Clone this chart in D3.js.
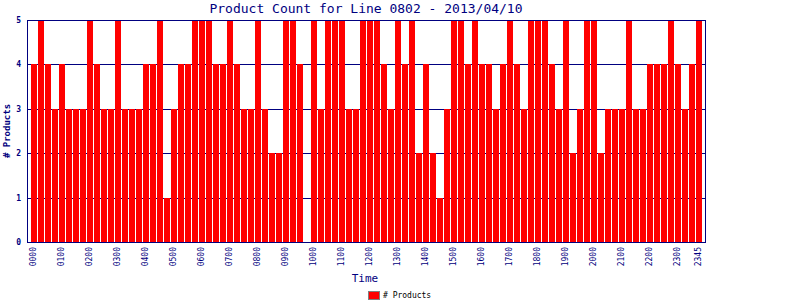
<!DOCTYPE html>
<html>
<head>
<meta charset="utf-8">
<script src="https://cdn.jsdelivr.net/npm/d3@7"></script>
<style>
  body { margin: 0; background: #fff; }
  text { font-family: "DejaVu Sans Mono", monospace; fill: #000080; }
</style>
</head>
<body>
<div id="chart"></div>
<script>
// chart data
var title = "Product Count for Line 0802 - 2013/04/10";
// one slot every 15 minutes
var times = d3.range(96).map(function(i) {
  return d3.format("02d")(Math.floor(i / 4)) + d3.format("02d")((i % 4) * 15);
});
var counts = [
  4,5,4,3,4,3,3,3,5,4,3,3,5,3,3,3,4,4,5,1,3,4,4,5,5,5,
  4,4,5,4,3,3,5,3,2,2,5,5,4,0,5,3,5,5,5,3,3,5,5,5,4,3,
  5,4,5,2,4,2,1,3,5,5,4,5,4,4,3,4,5,4,3,5,5,5,
  4,3,5,2,3,5,5,2,3,3,3,5,3,3,4,4,4,5,4,3,4,5
];
var tickLabels = ["0000","0100","0200","0300","0400","0500","0600","0700","0800","0900",
  "1000","1100","1200","1300","1400","1500","1600","1700","1800","1900",
  "2000","2100","2200","2300","2345"];
var yTicks = [0, 1, 2, 3, 4, 5];

// size of plot
var w = 800, h = 300;
var plotL = 27, plotR = 705, plotT = 20, plotB = 242;

var svg = d3.select("#chart").append("svg")
  .attr("width", w)
  .attr("height", h);

var x = d3.scaleBand()
  .domain(times)
  .range([plotL + 3, plotR - 3])
  .paddingInner(1 / 7)
  .paddingOuter(1 / 14);

var y = d3.scaleLinear()
  .domain([0, 5])
  .range([plotB, plotT]);

// grid lines
svg.append("g")
  .selectAll("line")
  .data(yTicks)
  .enter()
  .append("line")
  .attr("x1", plotL)
  .attr("x2", plotR)
  .attr("y1", function(d) { return Math.round(y(d)) + 0.5; })
  .attr("y2", function(d) { return Math.round(y(d)) + 0.5; })
  .attr("stroke", "#000080")
  .attr("stroke-width", 1);

// bars
svg.append("g")
  .selectAll("rect")
  .data(counts)
  .enter()
  .append("rect")
  .attr("x", function(d, i) { return Math.round(x(times[i])); })
  .attr("y", function(d) { return Math.round(y(d)); })
  .attr("width", 6)
  .attr("height", function(d) { return Math.round(y(0)) - Math.round(y(d)); })
  .attr("fill", "#ff0000");

// frame
svg.append("rect")
  .attr("x", plotL + 0.5)
  .attr("y", plotT + 0.5)
  .attr("width", plotR - plotL)
  .attr("height", plotB - plotT)
  .attr("fill", "none")
  .attr("stroke", "#000080");

// y tick labels
svg.append("g")
  .selectAll("text")
  .data(yTicks)
  .enter()
  .append("text")
  .attr("x", 21)
  .attr("y", function(d) { return y(d) + 3; })
  .attr("text-anchor", "end")
  .style("font-size", "8px")
  .style("font-weight", "bold")
  .text(function(d) { return d; });

// x tick labels
svg.append("g")
  .selectAll("text")
  .data(tickLabels)
  .enter()
  .append("text")
  .attr("transform", function(d) {
    var cx = x(d) + x.bandwidth() / 2 + 2.5;
    return "translate(" + cx + ",247) rotate(-90)";
  })
  .attr("text-anchor", "end")
  .style("font-size", "8px")
  .text(function(d) { return d; });

// title
svg.append("text")
  .attr("x", 366)
  .attr("y", 13)
  .attr("text-anchor", "middle")
  .style("font-size", "13px")
  .text(title);

// axis titles
svg.append("text")
  .attr("x", 365)
  .attr("y", 282)
  .attr("text-anchor", "middle")
  .style("font-size", "11px")
  .text("Time");

svg.append("text")
  .attr("transform", "translate(10,131) rotate(-90)")
  .attr("text-anchor", "middle")
  .style("font-size", "9px")
  .style("font-weight", "bold")
  .text("# Products");

// legend
svg.append("rect")
  .attr("x", 368.5)
  .attr("y", 291.5)
  .attr("width", 11)
  .attr("height", 8)
  .attr("fill", "#ff0000")
  .attr("stroke", "#808080");

svg.append("text")
  .attr("x", 383)
  .attr("y", 298)
  .style("font-size", "8px")
  .style("fill", "#000")
  .text("# Products");
</script>
</body>
</html>
